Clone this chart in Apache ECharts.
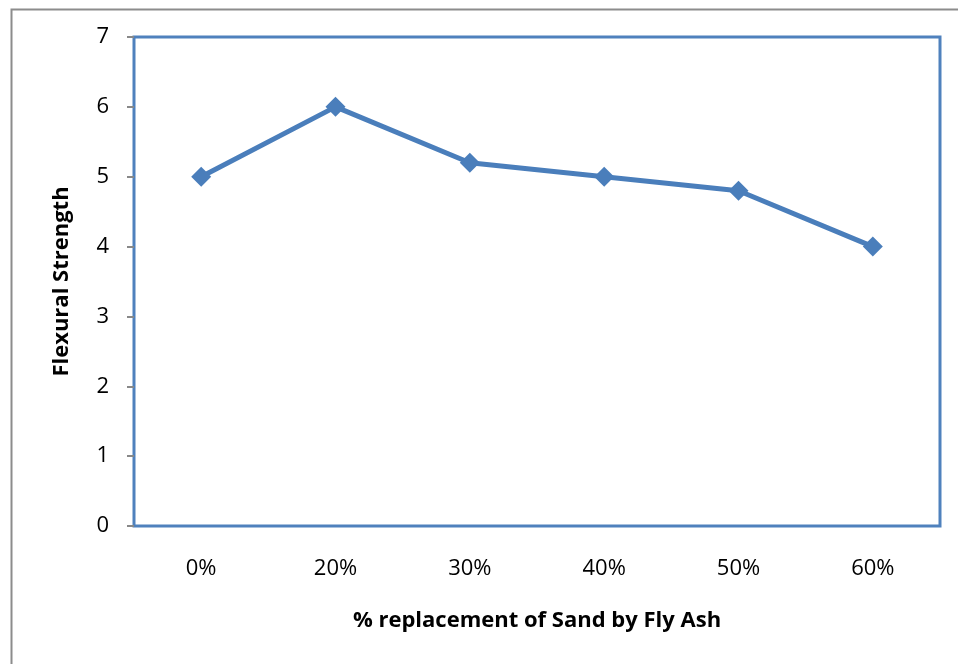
<!DOCTYPE html>
<html>
<head>
<meta charset="utf-8">
<script src="https://cdn.jsdelivr.net/npm/echarts@6/dist/echarts.min.js"></script>
<style>html,body{margin:0;padding:0;background:#fff}#c{width:958px;height:664px}</style>
</head>
<body>
<div id="c"></div>
<script>
var categories = ['0%', '20%', '30%', '40%', '50%', '60%'];
var flexural = [5, 6, 5.2, 5, 4.8, 4];
var xTitle = '% replacement of Sand by Fly Ash';
var yTitle = 'Flexural Strength';

var chart = echarts.init(document.getElementById('c'), null, {renderer: 'canvas'});
var font = '"Open Sans", "Liberation Sans", sans-serif';
chart.setOption({
  animation: false,
  backgroundColor: '#fff',
  graphic: [{
    type: 'rect', left: 9, top: 7,
    shape: {width: 1000, height: 700},
    style: {fill: 'none', stroke: '#8c8c8c', lineWidth: 2},
    z: -1
  }],
  grid: {
    left: 134, top: 37, right: 18, bottom: 138,
    show: true, borderColor: '#4F81BD', borderWidth: 3, backgroundColor: '#fff'
  },
  xAxis: {
    type: 'category', data: categories, boundaryGap: true,
    axisLine: {show: false},
    axisTick: {show: false},
    axisLabel: {color: '#000', fontSize: 22, fontFamily: font, margin: 32},
    name: xTitle, nameLocation: 'middle', nameGap: 84,
    nameTextStyle: {color: '#000', fontSize: 22, fontWeight: 'bold', fontFamily: font}
  },
  yAxis: {
    type: 'value', min: 0, max: 7, interval: 1,
    axisLine: {show: false},
    axisTick: {show: true, length: 7, lineStyle: {color: '#888', width: 2}},
    splitLine: {show: false},
    axisLabel: {color: '#000', fontSize: 22, fontFamily: font, margin: 25},
    name: yTitle, nameLocation: 'middle', nameGap: 61, nameRotate: 90,
    nameTextStyle: {color: '#000', fontSize: 22, fontWeight: 'bold', fontFamily: font}
  },
  series: [{
    type: 'line', data: flexural,
    symbol: 'diamond', symbolSize: 20,
    lineStyle: {color: '#4A7EBB', width: 5},
    itemStyle: {color: '#4A7EBB'}
  }]
});
</script>
</body>
</html>
